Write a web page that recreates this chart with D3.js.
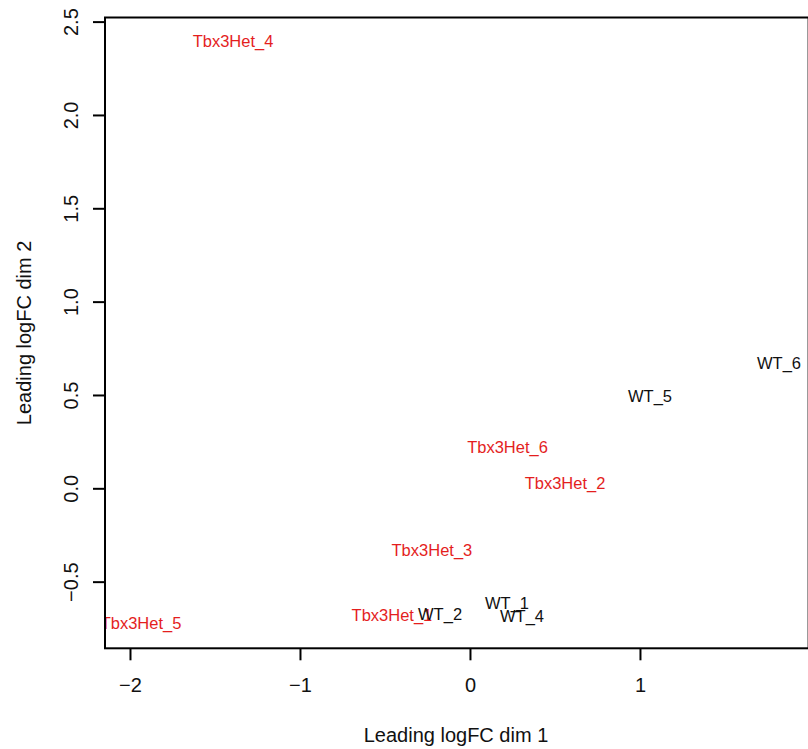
<!DOCTYPE html>
<html>
<head>
<meta charset="utf-8">
<script src="https://cdn.jsdelivr.net/npm/d3@7"></script>
<style>
  body { margin: 0; background: #fff; }
  svg { display: block; font-family: "Liberation Sans", Arial, Helvetica, sans-serif; }
</style>
</head>
<body>
<svg id="mds"></svg>
<script>
const w = 808;
const h = 749;

// sample labels and their leading logFC coordinates
const muestras = ['Tbx3Het_1', 'Tbx3Het_2', 'Tbx3Het_3', 'Tbx3Het_4', 'Tbx3Het_5', 'Tbx3Het_6',
                  'WT_1', 'WT_2', 'WT_4', 'WT_5', 'WT_6'];
const dim1 = [-0.459, 0.559, -0.224, -1.394, -1.935, 0.221, 0.218, -0.176, 0.306, 1.059, 1.818];
const dim2 = [-0.679, 0.027, -0.330, 2.396, -0.721, 0.223, -0.614, -0.673, -0.684, 0.492, 0.671];
const grupo = ['Het', 'Het', 'Het', 'Het', 'Het', 'Het', 'WT', 'WT', 'WT', 'WT', 'WT'];

const ticksX = [-2, -1, 0, 1];
const ticksY = [-0.5, 0, 0.5, 1, 1.5, 2, 2.5];
const limX = [-2.147, 1.992];
const limY = [-0.857, 2.522];

const pIzq = 105, pDer = 808.6, pArr = 17.5, pAba = 648.3;

const escalaX = d3.scaleLinear().domain(limX).range([pIzq, pDer]);
const escalaY = d3.scaleLinear().domain(limY).range([pAba, pArr]);
const color = d3.scaleOrdinal().domain(['Het', 'WT']).range(['#e41e1e', '#111']);

const svg = d3.select('#mds')
  .attr('width', w)
  .attr('height', h);

svg.append('defs')
  .append('clipPath')
  .attr('id', 'recorte')
  .append('rect')
  .attr('x', pIzq)
  .attr('y', pArr)
  .attr('width', pDer - pIzq)
  .attr('height', pAba - pArr);

// labels at the points (R text(), clipped to plot region)
svg.append('g')
  .attr('clip-path', 'url(#recorte)')
  .selectAll('text')
  .data(muestras)
  .enter()
  .append('text')
  .attr('x', (d, i) => escalaX(dim1[i]))
  .attr('y', (d, i) => escalaY(dim2[i]))
  .attr('dy', '0.36em')
  .attr('text-anchor', 'middle')
  .style('font-size', '16.5px')
  .style('fill', (d, i) => color(grupo[i]))
  .text(d => d);

// x axis
const ejeX = d3.axisBottom(escalaX)
  .tickValues(ticksX)
  .tickFormat(d3.format('d'))
  .tickSize(12)
  .tickPadding(18);

const gx = svg.append('g')
  .attr('transform', 'translate(0,' + pAba + ')')
  .call(ejeX);
gx.select('.domain').remove();
gx.selectAll('line').attr('stroke', '#000').attr('stroke-width', 2);
gx.selectAll('text')
  .style('font-size', '20px')
  .style('font-family', '"Liberation Sans", Arial, sans-serif')
  .attr('fill', '#111');

// y axis, labels parallel to axis as in R
const ejeY = d3.axisLeft(escalaY)
  .tickValues(ticksY)
  .tickFormat(d3.format('.1f'))
  .tickSize(12);

const gy = svg.append('g')
  .attr('transform', 'translate(' + pIzq + ',0)')
  .call(ejeY);
gy.select('.domain').remove();
gy.selectAll('line').attr('stroke', '#000').attr('stroke-width', 2);
gy.selectAll('text')
  .attr('x', null)
  .attr('dy', null)
  .attr('text-anchor', 'middle')
  .attr('transform', 'translate(-27,0) rotate(-90)')
  .style('font-size', '20px')
  .style('font-family', '"Liberation Sans", Arial, sans-serif')
  .attr('fill', '#111');

// box
svg.append('rect')
  .attr('x', pIzq)
  .attr('y', pArr)
  .attr('width', pDer - pIzq)
  .attr('height', pAba - pArr)
  .attr('fill', 'none')
  .attr('stroke', '#000')
  .attr('stroke-width', 2);

// axis titles
svg.append('text')
  .attr('x', (pIzq + 807) / 2)
  .attr('y', 742)
  .attr('text-anchor', 'middle')
  .style('font-size', '20px')
  .style('fill', '#111')
  .text('Leading logFC dim 1');

svg.append('text')
  .attr('transform', 'translate(31,' + ((pArr + pAba) / 2) + ') rotate(-90)')
  .attr('text-anchor', 'middle')
  .style('font-size', '20px')
  .style('fill', '#111')
  .text('Leading logFC dim 2');
</script>
</body>
</html>
